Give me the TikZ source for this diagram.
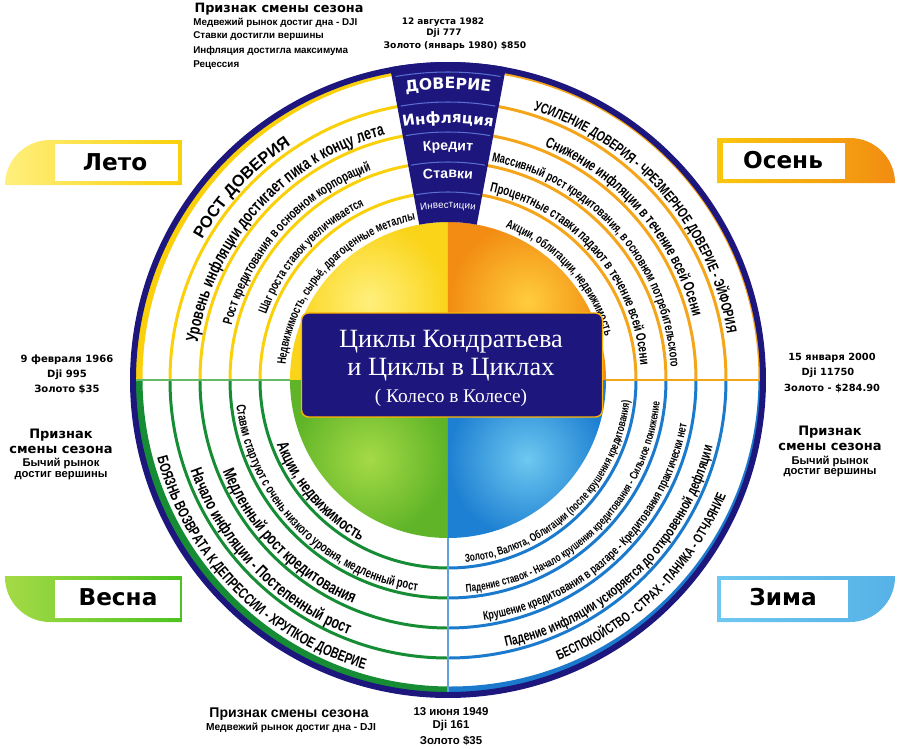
\documentclass[tikz,border=0pt]{standalone}
\usepackage{fontspec}
\setmainfont{Liberation Sans}
\newfontfamily\narrowfont{Liberation Sans}[FakeStretch=0.72]
\newfontfamily\wideboldfont{DejaVu Sans}
\newfontfamily\serifont{Liberation Serif}
\usetikzlibrary{decorations.text}

\definecolor{navyc}{RGB}{28,22,125}
\definecolor{yellowc}{RGB}{250,208,10}
\definecolor{orangec}{RGB}{245,165,25}
\definecolor{greenc}{RGB}{22,140,52}
\definecolor{bluec}{RGB}{28,122,205}
\definecolor{ulin}{RGB}{255,240,125}
\definecolor{ulout}{RGB}{250,212,25}
\definecolor{urin}{RGB}{255,205,60}
\definecolor{urout}{RGB}{242,140,18}
\definecolor{llin}{RGB}{165,218,70}
\definecolor{llout}{RGB}{95,180,40}
\definecolor{lrin}{RGB}{110,200,240}
\definecolor{lrout}{RGB}{30,128,210}
\definecolor{funnelline}{RGB}{90,110,210}

\newcommand\bandfont[1]{\narrowfont\bfseries\fontsize{#1}{#1}\selectfont}
\newcommand\boldsize[1]{\bfseries\fontsize{#1}{#1}\selectfont}
\newcommand\heavysize[1]{\wideboldfont\bfseries\fontsize{#1}{#1}\selectfont}

\begin{document}
\begin{tikzpicture}[x=0.02cm, y=0.02cm,
    every node/.style={inner sep=0pt},
    ring/.style={line width=1.7pt},
    bandtext/.style={decorate, decoration={text along path, text align=center, text={#1}}},
    tablabel/.style={font=\heavysize{13.2pt}}]
    \useasboundingbox (-448,-368) rectangle (452,380);

    % диск в центре
    \foreach \a/\ci/\co in {90/ulin/ulout, 0/urin/urout, 180/llin/llout, 270/lrin/lrout}
        \shade[inner color=\ci, outer color=\co] (0,0) -- (\a:158) arc[start angle=\a, end angle=\a+90, radius=158] -- cycle;

    % цветная полоса у края
    \foreach \c/\sx/\sy in {yellowc/-1/1, orangec/1/1, greenc/-1/-1, bluec/1/-1} {
        \begin{scope}
            \clip (0,0) rectangle (\sx*325,\sy*325);
            \fill[\c, even odd rule] (0,0) circle (316) (2.5,1.5) circle (308);
        \end{scope}
    }

    % кольца
    \foreach \r in {188,218,248,278} {
        \draw[ring, yellowc] (180:\r) arc[start angle=180, end angle=90, radius=\r];
        \draw[ring, orangec] (90:\r) arc[start angle=90, end angle=0, radius=\r];
        \draw[ring, greenc] (180:\r) arc[start angle=180, end angle=270, radius=\r];
        \draw[ring, bluec] (270:\r) arc[start angle=270, end angle=360, radius=\r];
    }

    % разделители
    \draw[green!55!black!60, line width=0.6pt] (-158,0) -- (-312,0);
    \draw[orangec, line width=0.6pt] (158,0) -- (312,0);
    \draw[bluec!70, line width=0.6pt] (0,-158) -- (0,-312);

    % внешний круг
    \draw[navyc, line width=3.4pt] (0,0) circle (315);

    % воронка
    \fill[navyc] (79.5:158) arc[start angle=79.5, end angle=100.5, radius=158]
        -- (100.5:318) arc[start angle=100.5, end angle=79.5, radius=318] -- cycle;
    \foreach \r in {188,218,248,278,308}
        \draw[funnelline, line width=0.6pt] (80.2:\r) arc[start angle=80.2, end angle=99.8, radius=\r];
    \path[bandtext={|\color{white}\heavysize{8.9pt}|ДОВЕРИЕ}] (120:291) arc[start angle=120, end angle=60, radius=291];
    \path[bandtext={|\color{white}\heavysize{8.6pt}|Инфляция}] (120:257) arc[start angle=120, end angle=60, radius=257];
    \path[bandtext={|\color{white}\boldsize{8pt}|Кредит}] (120:230) arc[start angle=120, end angle=60, radius=230];
    \path[bandtext={|\color{white}\boldsize{8pt}|Ставки}] (120:202) arc[start angle=120, end angle=60, radius=202];
    \path[bandtext={|\color{white}\fontsize{5.6pt}{5.6pt}\selectfont|Инвестиции}] (120:172) arc[start angle=120, end angle=60, radius=172];

    % Лето
    \path[bandtext={|\boldsize{9.3pt}|РОСТ ДОВЕРИЯ}] (181:283) arc[start angle=181, end angle=93, radius=283];
    \path[bandtext={|\bandfont{9.8pt}|Уровень инфляции достигает пика к концу лета}] (182:253) arc[start angle=182, end angle=94, radius=253];
    \path[bandtext={|\bandfont{7.8pt}|Рост кредитования в основном корпораций}] (182:223) arc[start angle=182, end angle=94, radius=223];
    \path[bandtext={|\bandfont{7.2pt}|Шаг роста ставок увеличивается}] (182:193) arc[start angle=182, end angle=94, radius=193];
    \path[bandtext={|\bandfont{7.1pt}|Недвижимость, сырьё, драгоценные металлы}] (182:163) arc[start angle=182, end angle=94, radius=163];

    % Осень
    \path[bandtext={|\bandfont{8.2pt}|УСИЛЕНИЕ ДОВЕРИЯ - ЧРЕЗМЕРНОЕ ДОВЕРИЕ - ЭЙФОРИЯ}] (85:283) arc[start angle=85, end angle=-3, radius=283];
    \path[bandtext={|\bandfont{8.6pt}|Снижение инфляции в течение всей Осени}] (85:253) arc[start angle=85, end angle=-3, radius=253];
    \path[bandtext={|\bandfont{7.4pt}|Массивный рост кредитования, в основном потребительского}] (85:223) arc[start angle=85, end angle=-3, radius=223];
    \path[bandtext={|\bandfont{7.8pt}|Процентные ставки падают в течение всей Осени}] (85:193) arc[start angle=85, end angle=-3, radius=193];
    \path[bandtext={|\bandfont{7.2pt}|Акции, облигации, недвижимость}] (86.5:163) arc[start angle=86.5, end angle=-1.5, radius=163];

    % Весна
    \path[bandtext={|\bandfont{8.6pt}|БОЯЗНЬ ВОЗВРАТА К ДЕПРЕССИИ - ХРУПКОЕ ДОВЕРИЕ}] (180.4:301) arc[start angle=180.4, end angle=268.4, radius=301];
    \path[bandtext={|\bandfont{9.6pt}|Начало инфляции - Постепенный рост}] (180:273) arc[start angle=180, end angle=268, radius=273];
    \path[bandtext={|\bandfont{9.6pt}|Медленный рост кредитования}] (180.5:243) arc[start angle=180.5, end angle=268.5, radius=243];
    \path[bandtext={|\bandfont{7.5pt}|Ставки стартуют с очень низкого уровня, медленный рост}] (180.2:213) arc[start angle=180.2, end angle=268.2, radius=213];
    \path[bandtext={|\bandfont{9.4pt}|Акции, недвижимость}] (177:183) arc[start angle=177, end angle=265, radius=183];

    % Зима
    \path[bandtext={|\bandfont{7.8pt}|БЕСПОКОЙСТВО - СТРАХ - ПАНИКА - ОТЧАЯНИЕ}] (270.5:301) arc[start angle=270.5, end angle=358.5, radius=301];
    \path[bandtext={|\bandfont{8.2pt}|Падение инфляции ускоряется до откровенной дефляции}] (270:273) arc[start angle=270, end angle=358, radius=273];
    \path[bandtext={|\bandfont{7.1pt}|Крушение кредитования в разгаре - Кредитования практически нет}] (270:243) arc[start angle=270, end angle=358, radius=243];
    \path[bandtext={|\bandfont{6.5pt}|Падение ставок - Начало крушения кредитования - Сильное понижение}] (270.5:213) arc[start angle=270.5, end angle=358.5, radius=213];
    \path[bandtext={|\bandfont{6.5pt}|Золото, Валюта, Облигации (после крушения кредитования)}] (270.4:183) arc[start angle=270.4, end angle=358.4, radius=183];

    % заголовок
    \node[fill=navyc, draw=orange!60!yellow, line width=0.8pt, rounded corners=4pt,
        minimum width=6.02cm, minimum height=2.08cm] (titlebox) at (4,15) {};
    \node[text=white, font=\serifont\fontsize{15pt}{15pt}\selectfont] (title1) at (3,38) {Циклы Кондратьева};
    \node[text=white, font=\serifont\fontsize{15pt}{15pt}\selectfont] (title2) at (3,10) {и Циклы в Циклах};
    \node[text=white, font=\serifont\fontsize{11pt}{11pt}\selectfont] (title3) at (3,-18) {( Колесо в Колесе)};

    % вкладки сезонов
    \shade[left color=ulin, right color=yellowc] (-443,195) arc[start angle=180, end angle=90, radius=45] -- (-266,240) -- (-266,195) -- cycle;
    \fill[white] (-393,199) rectangle (-270,236);
    \node[tablabel] (leto) at (-333,218) {Лето};

    \shade[left color=yellowc!80!orangec, right color=urout] (269,197) -- (269,242) -- (402,242) arc[start angle=90, end angle=0, radius=45] -- cycle;
    \fill[white] (275,201) rectangle (397,237);
    \node[tablabel] (osen) at (335,220) {Осень};

    \shade[left color=llin, right color=llout!80!green] (-443,-196) -- (-266,-196) -- (-266,-242) -- (-398,-242) arc[start angle=270, end angle=180, radius=45] -- cycle;
    \fill[white] (-393,-200) rectangle (-268,-238);
    \node[tablabel] (vesna) at (-330,-217) {Весна};

    \shade[left color=lrin, right color=lrin!70!lrout] (269,-196) -- (447,-196) -- (447,-197) arc[start angle=0, end angle=-90, radius=45] -- (269,-242) -- cycle;
    \fill[white] (273,-200) rectangle (400,-238);
    \node[tablabel] (zima) at (335,-217) {Зима};

    % подписи сверху
    \node[font=\heavysize{7.3pt}] (topsign) at (-169,371) {Признак смены сезона};
    \node[anchor=west, font=\boldsize{5.6pt}] (top1) at (-255,357) {Медвежий рынок достиг дна - DJI};
    \node[anchor=west, font=\boldsize{5.6pt}] (top2) at (-255,344) {Ставки достигли вершины};
    \node[anchor=west, font=\boldsize{5.6pt}] (top3) at (-255,329) {Инфляция достигла максимума};
    \node[anchor=west, font=\boldsize{5.6pt}] (top4) at (-255,315) {Рецессия};
    \node[font=\heavysize{5.1pt}] (topdate) at (-5,358) {12 августа 1982};
    \node[font=\heavysize{5.1pt}] (topdji) at (-4,347) {Dji 777};
    \node[font=\heavysize{5.2pt}] (topgold) at (7,334) {Золото (январь 1980) \$850};

    % подписи слева
    \node[font=\heavysize{5.7pt}] (leftdate) at (-381,20) {9 февраля 1966};
    \node[font=\heavysize{5.7pt}] (leftdji) at (-381,5) {Dji 995};
    \node[font=\heavysize{5.7pt}] (leftgold) at (-381,-9) {Золото \$35};
    \node[font=\heavysize{7.4pt}] (leftsign1) at (-387,-55) {Признак};
    \node[font=\heavysize{7.4pt}] (leftsign2) at (-387,-70) {смены сезона};
    \node[font=\boldsize{6.4pt}] (leftsign3) at (-387,-83) {Бычий рынок};
    \node[font=\boldsize{6.4pt}] (leftsign4) at (-387,-96) {достиг вершины};

    % подписи справа
    \node[font=\heavysize{5.6pt}] (rightdate) at (384,22) {15 января 2000};
    \node[font=\heavysize{5.6pt}] (rightdji) at (380,7) {Dji 11750};
    \node[font=\heavysize{5.6pt}] (rightgold) at (384,-8) {Золото - \$284.90};
    \node[font=\heavysize{7.4pt}] (rightsign1) at (382,-52) {Признак};
    \node[font=\heavysize{7.4pt}] (rightsign2) at (382,-67) {смены сезона};
    \node[font=\boldsize{6.4pt}] (rightsign3) at (382,-81) {Бычий рынок};
    \node[font=\boldsize{6.4pt}] (rightsign4) at (382,-93) {достиг вершины};

    % подписи снизу
    \node[font=\boldsize{8pt}] (botsign) at (-159,-334) {Признак смены сезона};
    \node[font=\boldsize{5.8pt}] (bot1) at (-157,-348) {Медвежий рынок достиг дна - DJI};
    \node[font=\boldsize{6.5pt}] (botdate) at (3,-332) {13 июня 1949};
    \node[font=\boldsize{6.5pt}] (botdji) at (3,-346) {Dji 161};
    \node[font=\boldsize{6.5pt}] (botgold) at (3,-361) {Золото \$35};
\end{tikzpicture}
\end{document}
